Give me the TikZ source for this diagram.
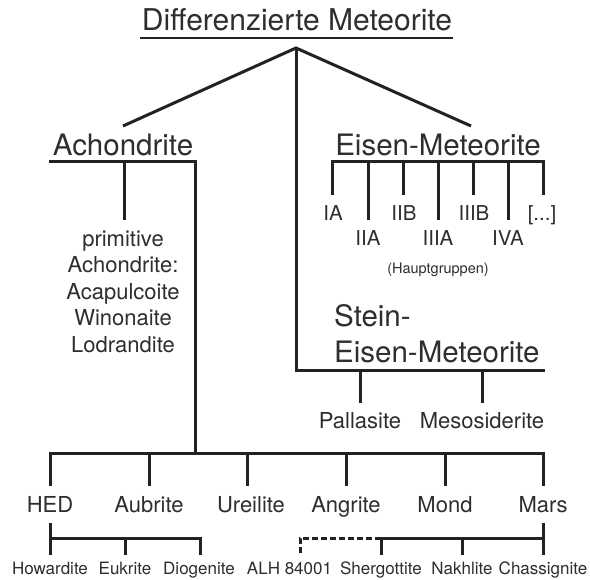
\documentclass[tikz,border=0pt]{standalone}
\usepackage{fontspec}
\usetikzlibrary{calc}
\setmainfont{TeX Gyre Heros}
\definecolor{txt}{HTML}{2E2E2E}
\definecolor{lc}{HTML}{222222}
\begin{document}
\begin{tikzpicture}[x=1pt,y=-1pt,
  lbl/.style={inner sep=0pt, anchor=base, text=txt},
  ttl/.style={lbl, font=\fontsize{30}{36}\selectfont},
  head/.style={lbl, font=\fontsize{29.5}{35}\selectfont},
  mid/.style={lbl, font=\fontsize{22}{26}\selectfont},
  grp/.style={lbl, font=\fontsize{20.5}{24}\selectfont},
  sml/.style={lbl, font=\fontsize{17}{20}\selectfont},
  tny/.style={lbl, font=\fontsize{14.5}{17}\selectfont},
  ln/.style={draw=lc, line width=3pt, line cap=butt, line join=miter},
  ul/.style={draw=lc, line width=2.6pt, line cap=butt},
  dsh/.style={ln, dash pattern=on 6pt off 3pt}
]
\useasboundingbox (0,0) rectangle (590,580);
\fill[white] (0,0) rectangle (590,580);

% ---------- labels ----------
\node[ttl] (title) at (297,31) {Differenzierte Meteorite};
\node[head] (achon) at (123,156) {Achondrite};
\node[head] (eisen) at (438,156) {Eisen-Meteorite};
\node[head, anchor=base west] (stein1) at (334,327) {Stein-};
\node[head, anchor=base west] (stein2) at (334,363) {Eisen-Meteorite};

\node[mid] (p1) at (123,246.5) {primitive};
\node[mid] (p2) at (123,273) {Achondrite:};
\node[mid] (p3) at (123,299.5) {Acapulcoite};
\node[mid] (p4) at (123,326) {Winonaite};
\node[mid] (p5) at (123,352.5) {Lodrandite};

\node[grp] (IA)   at (333,221) {IA};
\node[grp] (IIA)  at (368,246) {IIA};
\node[grp] (IIB)  at (404,221) {IIB};
\node[grp] (IIIA) at (438,246) {IIIA};
\node[grp] (IIIB) at (474,221) {IIIB};
\node[grp] (IVA)  at (508,246) {IVA};
\node[grp] (etc)  at (542,221) {[...]};
\node[tny] (haupt) at (438,274) {(Hauptgruppen)};

\node[mid] (pall) at (360,429) {Pallasite};
\node[mid] (meso) at (482,429) {Mesosiderite};

\node[mid] (hed)  at (50,513)  {HED};
\node[mid] (aub)  at (149,513) {Aubrite};
\node[mid] (ure)  at (251,513) {Ureilite};
\node[mid] (ang)  at (346,513) {Angrite};
\node[mid] (mond) at (445,513) {Mond};
\node[mid] (mars) at (543,513) {Mars};

\node[sml] (how)  at (50,574)  {Howardite};
\node[sml] (euk)  at (125,574) {Eukrite};
\node[sml] (dio)  at (199,574) {Diogenite};
\node[sml] (alh)  at (289.5,574) {ALH 84001};
\node[sml] (sher) at (381,574) {Shergottite};
\node[sml] (nak)  at (462,574) {Nakhlite};
\node[sml] (cha)  at (543,574) {Chassignite};

% ---------- coordinates ----------
\coordinate (tulL) at (140,38);  \coordinate (tulR) at (453,38);
\coordinate (apex) at (296,48);
\coordinate (dL) at (123,126);   \coordinate (dR) at (471,126);
\coordinate (aulL) at (49,162);  \coordinate (aulR) at (195,162);
\coordinate (abr) at (124,162);  \coordinate (abrE) at (124,220);
\coordinate (eulL) at (332,162); \coordinate (eulR) at (543,162);
\coordinate (seC) at (296,371);  \coordinate (seR) at (545,371);
\coordinate (barL) at (50,454);  \coordinate (barR) at (543,454);
\coordinate (barJ) at (195,454);
\coordinate (hedT) at (50,523);  \coordinate (hedB) at (50,555);
\coordinate (hedR) at (200,538);
\coordinate (marsT) at (543,523); \coordinate (marsB) at (543,555);
\coordinate (sherJ) at (381,538);
\coordinate (alhC) at (300,538); \coordinate (alhB) at (300,554);

% ---------- lines ----------
\draw[ul] (tulL) -- (tulR);
\draw[ln] (dL) -- (apex) -- (dR);
\draw[ln] (apex) -- (seC) -- (seR);

% Achondrite
\draw[ln] (aulL) -- (aulR) -- (barJ);
\draw[ln] (abr) -- (abrE);

% Eisen-Meteorite bracket
\draw[ln] (332,195) -- (eulL) -- (eulR) -- (543,195);
\foreach \x/\e in {368/220,403/195,438/220,473/195,508/220}
  \draw[ln] (\x,162) -- (\x,\e);

% Stein-Eisen ticks
\draw[ln] (360,371) -- (360,403);
\draw[ln] (482,371) -- (482,403);

% main bottom bar
\draw[ln] (50,486) -- (barL) -- (barR) -- (543,486);
\foreach \x in {149,247,346,445}
  \draw[ln] (\x,454) -- (\x,486);

% HED subgroup
\draw[ln] (hedT) -- (hedB);
\draw[ln] (50,538) -- (hedR) -- (200,555);
\draw[ln] (125,538) -- (125,555);

% Mars subgroup
\draw[ln] (marsT) -- (marsB);
\draw[ln] (543,538) -- (sherJ) -- (381,555);
\draw[ln] (462,538) -- (462,555);

% dashed connector ALH 84001
\draw[dsh] (sherJ) -- (alhC) -- (alhB);
\end{tikzpicture}
\end{document}
